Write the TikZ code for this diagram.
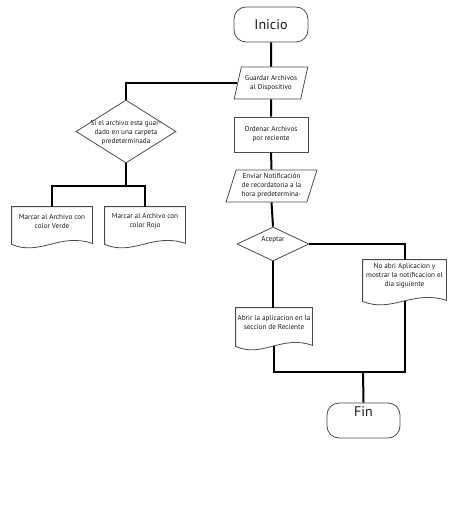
\documentclass[tikz,border=0pt]{standalone}
\usepackage{fontspec}
\setmainfont{PT Sans}
\usetikzlibrary{shapes.geometric,calc}
\definecolor{shapegray}{RGB}{75,75,75}
\definecolor{textgray}{RGB}{25,25,25}
\tikzset{every picture/.style={line width=0.75pt}}
\tikzset{
	box/.style={draw=shapegray,line width=0.6pt,align=center,inner sep=0pt,text=textgray,font=\fontsize{5.4pt}{6.75pt}\selectfont},
	term/.style={box,rounded corners=9pt,minimum width=55.5pt,minimum height=26.25pt,font=\fontsize{10.5pt}{12pt}\selectfont},
	io/.style={box,trapezium,trapezium stretches=true,trapezium left angle=68,trapezium right angle=112},
	proc/.style={box,rectangle},
	dec/.style={box,diamond},
	doc/.style={box,draw=none},
	docline/.style={draw=shapegray,line width=0.6pt},
	txt/.style={align=center,inner sep=0pt,text=textgray,font=\fontsize{5.4pt}{6.75pt}\selectfont},
	conn/.style={line width=1.5pt}
}

\begin{document}
\begin{tikzpicture}[x=0.75pt,y=-0.75pt]
		\useasboundingbox (0,0) rectangle (474,513);
		
		%main column
		\node[term] (inicio) at (271,24.5) {Inicio};
		\node[io,minimum width=55.5pt,minimum height=24pt] (guardar) at (271,83) {Guardar Archivos\\al Dispositivo};
		\node[proc,minimum width=55.5pt,minimum height=26.25pt] (ordenar) at (271,134.5) {Ordenar Archivos\\por reciente};
		\node[io,trapezium left angle=71,trapezium right angle=109,minimum width=68.25pt,minimum height=24pt] (enviar) at (271.5,186) {Enviar Notificación\\de recordatoria a la\\hora predetermina-};
		\node[dec,minimum width=54pt,minimum height=25.5pt] (aceptar) at (273,244) {};
		\node[txt] (aceptartxt) at (273,239.5) {Aceptar};
		
		%left branch
		\node[dec,minimum width=75pt,minimum height=47.25pt] (carpeta) at (126,131.5) {};
		\node[txt] (carpetatxt) at (126,133) {Si el archivo esta guar-\\dado en una carpeta\\predeterminada};
		\coordinate (split) at (126,186);
		
		%documents
		\node[doc,minimum width=60pt,minimum height=21pt] (verde) at (52,221) {Marcar al Archivo con\\color Verde};
		\node[doc,minimum width=60pt,minimum height=21pt] (rojo) at (145,221) {Marcar al Archivo con\\color Rojo};
		\node[doc,minimum width=57pt,minimum height=21.75pt] (abrir) at (274,322.5) {Abrir la aplicacion en la\\seccion de Reciente};
		\node[doc,minimum width=62.25pt,minimum height=24pt] (noabri) at (404.5,276) {No abri Aplicacion y\\mostrar la notificacion el\\dia siguiente};
		\foreach \docname in {verde,rojo,abrir,noabri}{
			\draw[docline] let \p1=(\docname.south west), \p2=(\docname.south east), \n1={\x2-\x1} in
			(\docname.north west) -- (\docname.north east) -- (\x2,\y2-6pt) .. controls (\x1+0.6*\n1,\y1+2.25pt) and (\x1+0.35*\n1,\y1-15.75pt) .. (\x1,\y1-6.75pt) -- cycle;
			\coordinate (\docname-b) at ($(\docname.south)+(0,-6.75pt)$);
		}
		
		%end
		\coordinate (merge) at (363,372);
		\node[term,minimum width=54.75pt] (fin) at (363.5,420.5) {};
		\node[txt,font=\fontsize{10.5pt}{12pt}\selectfont,anchor=north] (fintxt) at ([yshift=-2.25pt]fin.north) {Fin};
		
		%connectors
		\draw[conn] (inicio.south) -- (guardar.north);
		\draw[conn] (guardar.west) -| (carpeta.north);
		\draw[conn] (carpeta.south) -- (split);
		\draw[conn] (verde.north) |- (split) -| (rojo.north);
		\draw[conn] (guardar.south) -- (ordenar.north);
		\draw[conn] (ordenar.south) -- (enviar.north);
		\draw[conn] (enviar.south) -- (aceptar.north);
		\draw[conn] (aceptar.east) -| (noabri.north);
		\draw[conn] (aceptar.south) -- (aceptar.south |- abrir.north);
		\draw[conn] (abrir-b) |- (merge) -| (noabri-b);
		\draw[conn] (merge) -- (fin.north);
		
	\end{tikzpicture}
\end{document}
